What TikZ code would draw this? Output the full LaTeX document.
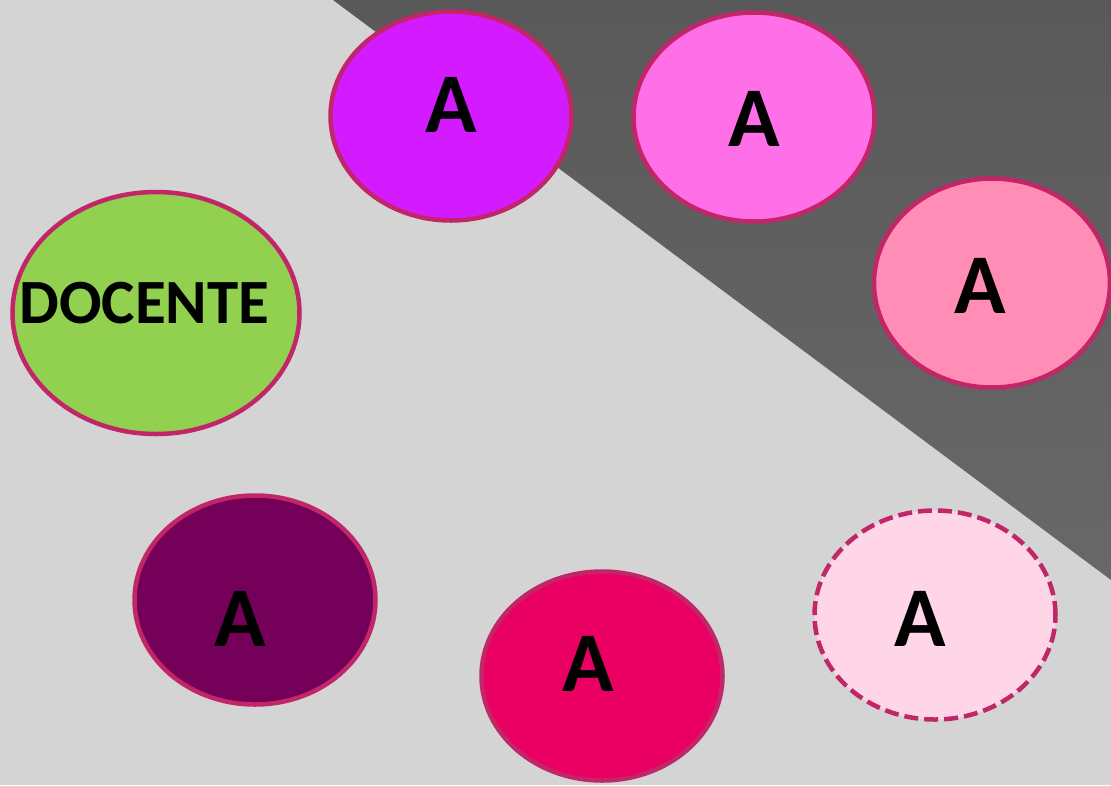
\documentclass[tikz,border=0pt]{standalone}
\usepackage{fontspec}
\setmainfont{Carlito}
\usetikzlibrary{shapes.geometric}
\definecolor{bglight}{HTML}{D4D4D4}
\definecolor{bgdarktop}{HTML}{595959}
\definecolor{bgdarkbot}{HTML}{686868}
\definecolor{rimpink}{RGB}{192,38,104}
\definecolor{cviolet}{HTML}{D41BFF}
\definecolor{cpink}{HTML}{FF6FE8}
\definecolor{crose}{HTML}{FF8DB5}
\definecolor{cgreen}{HTML}{92D050}
\definecolor{cplum}{HTML}{74005A}
\definecolor{cmagenta}{HTML}{EA0062}
\definecolor{cblush}{HTML}{FFD5E8}
\tikzset{
  blob/.style={ellipse, draw=rimpink, line width=4.5pt, inner sep=0pt,
    minimum width=241pt, minimum height=209pt},
  letter/.style={anchor=base, inner sep=0pt, font=\fontsize{85}{85}\selectfont\bfseries},
  dashedrim/.style={dash pattern=on 14pt off 6pt}
}
\begin{document}
\begin{tikzpicture}[x=1pt,y=-1pt]
  % backdrop: light field with a dark wedge in the upper right
  \fill[bglight] (0,0) rectangle (1111,785);
  \useasboundingbox (0,0) rectangle (1111,785);
  \shade[top color=bgdarktop, bottom color=bgdarkbot] (333,0) -- (1111,0) -- (1111,580) -- cycle;

  % circles
  \node[blob, fill=cviolet] (e1) at (451,116) {};
  \node[blob, fill=cpink] (e2) at (754,117) {};
  \node[blob, fill=crose, minimum width=236pt] (e3) at (992,283) {};
  \node[blob, fill=cgreen, minimum width=287pt, minimum height=242pt] (doc) at (156,313) {};
  \node[blob, fill=cplum] (e5) at (255,600) {};
  \node[blob, fill=cmagenta] (e6) at (602,676) {};
  \node[blob, fill=cblush, dashedrim] (e7) at (935,615) {};

  % labels
  \node[letter] (t1) at (451.5,132) {A};
  \node[letter] (t2) at (754,146) {A};
  \node[letter] (t3) at (980,313) {A};
  \node[letter, font=\fontsize{63}{63}\selectfont\bfseries] (tdoc) at (144.5,323) {DOCENTE};
  \node[letter] (t5) at (240,646) {A};
  \node[letter] (t6) at (588,691) {A};
  \node[letter] (t7) at (920,646) {A};
\end{tikzpicture}
\end{document}
